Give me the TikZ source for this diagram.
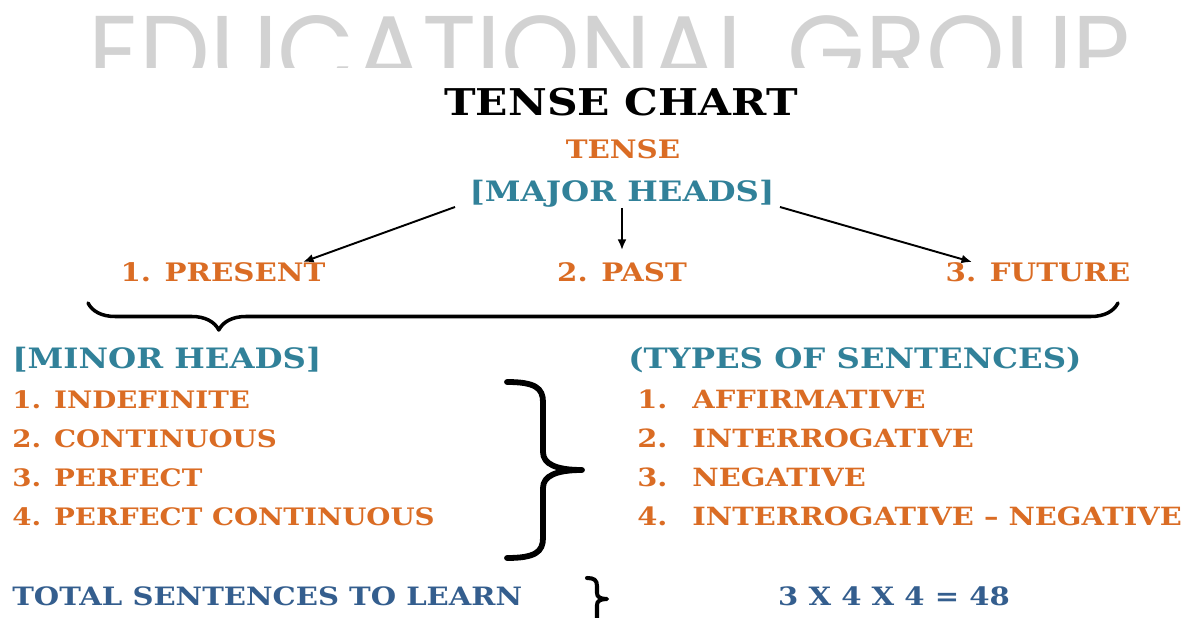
\documentclass[tikz,border=0pt]{standalone}
\usepackage{fontspec}
\setmainfont{DejaVu Serif}[FakeStretch=1.15]
\newfontfamily\markfont{Poppins}
\usepackage{tikz}
\usetikzlibrary{arrows.meta, decorations.pathreplacing}
\definecolor{chartorange}{RGB}{218,108,36}
\definecolor{chartteal}{RGB}{49,129,153}
\definecolor{chartblue}{RGB}{52,94,142}
\definecolor{markgray}{RGB}{210,210,210}
\tikzset{
    chart/.style={x=0.02cm, y=-0.02cm},
    chart text/.style={inner sep=0pt, font=\bfseries\fontsize{13.7}{16}\selectfont},
    chart title/.style={chart text, text=black,
        font=\bfseries\fontsize{21}{24}\selectfont},
    chart head/.style={chart text, text=chartteal,
        font=\bfseries\fontsize{16}{19}\selectfont},
    chart item/.style={chart text, text=chartorange},
    chart right item/.style={chart item,
        font=\bfseries\fontsize{14.3}{17}\selectfont},
    chart big item/.style={chart item,
        font=\bfseries\fontsize{14.5}{17}\selectfont},
    chart total/.style={chart text, text=chartblue,
        font=\bfseries\fontsize{14.4}{17}\selectfont},
    chart arrow/.style={-{Latex[length=6pt, width=5pt]}, line width=1.1pt},
    chart brace/.style={line cap=round, line join=round},
}

\begin{document}
\begin{tikzpicture}[chart]
    \useasboundingbox (0,0) rectangle (1194,618);
    % faded banner, cut off at the top
    \begin{scope}
        \clip (0,0) rectangle (1194,68);
        \node[anchor=north west, inner sep=0pt, text=markgray] (banner) at (88,15)
            {\resizebox{20.84cm}{1.44cm}{\markfont EDUCATIONAL GROUP}};
    \end{scope}

    \node[chart title, anchor=base] (title) at (621,116) {TENSE CHART};
    \node[chart big item, anchor=base] (tense) at (623,159) {TENSE};
    \node[chart head, anchor=base] (major) at (622,202) {[MAJOR HEADS]};

    \node[chart big item, anchor=base] (present) at (223,282) {1. PRESENT};
    \node[chart big item, anchor=base] (past) at (622,282) {2. PAST};
    \node[chart big item, anchor=base] (future) at (1038,282) {3. FUTURE};

    \draw[chart arrow] ([shift={(-167,5)}]major.base) -- ([shift={(80,-20)}]present.base);
    \draw[chart arrow] ([shift={(0,6)}]major.base) -- ([shift={(0,-32)}]past.base);
    \draw[chart arrow] ([shift={(158,5)}]major.base) -- ([shift={(-66,-20)}]future.base);

    \coordinate (brace left) at (88,303);
    \coordinate (brace right) at (1118,303);
    \draw[chart brace, decorate, line width=2pt,
        decoration={brace, mirror, amplitude=0.54cm, aspect=0.127}]
        (brace left) -- (brace right);

    % minor heads
    \node[chart head, anchor=base west] (minor) at (12,369) {[MINOR HEADS]};
    \node[chart item, anchor=base west] (indefinite) at (12,408) {1. INDEFINITE};
    \node[chart item, anchor=base west] (continuous) at (12,447) {2. CONTINUOUS};
    \node[chart item, anchor=base west] (perfect) at (12,486) {3. PERFECT};
    \node[chart item, anchor=base west] (perfcont) at (12,525) {4. PERFECT CONTINUOUS};

    \draw[chart brace, line width=3.3pt]
        (507,382) .. controls (535,382) and (543,388) .. (543,402) -- (543,452)
        .. controls (543,464) and (556,470) .. (582,470)
        .. controls (556,470) and (543,476) .. (543,488) -- (543,538)
        .. controls (543,552) and (535,558) .. (507,558);

    % types of sentences
    \node[chart head, anchor=base west] (types) at (628,369) {(TYPES OF SENTENCES)};
    \node[chart right item, anchor=base west] (num1) at (637,408) {1.};
    \node[chart right item, anchor=base west] (num2) at (637,447) {2.};
    \node[chart right item, anchor=base west] (num3) at (637,486) {3.};
    \node[chart right item, anchor=base west] (num4) at (637,525) {4.};
    \node[chart right item, anchor=base west] (affirm) at (692,408) {AFFIRMATIVE};
    \node[chart right item, anchor=base west] (interr) at (692,447) {INTERROGATIVE};
    \node[chart right item, anchor=base west] (negat) at (692,486) {NEGATIVE};
    \node[chart right item, anchor=base west] (internegat) at (692,525) {INTERROGATIVE -- NEGATIVE};

    % total
    \node[chart total, anchor=base west] (total) at (12,605) {TOTAL SENTENCES TO LEARN};
    \draw[chart brace, line width=2.3pt]
        (587,578) .. controls (594,578) and (597,580) .. (597,586) -- (597,593)
        .. controls (597,597) and (600,599) .. (607,599)
        .. controls (600,599) and (597,601) .. (597,605) -- (597,625);
    \node[chart total, anchor=base] (result) at (894,605) {3 X 4 X 4 = 48};
\end{tikzpicture}
\end{document}
